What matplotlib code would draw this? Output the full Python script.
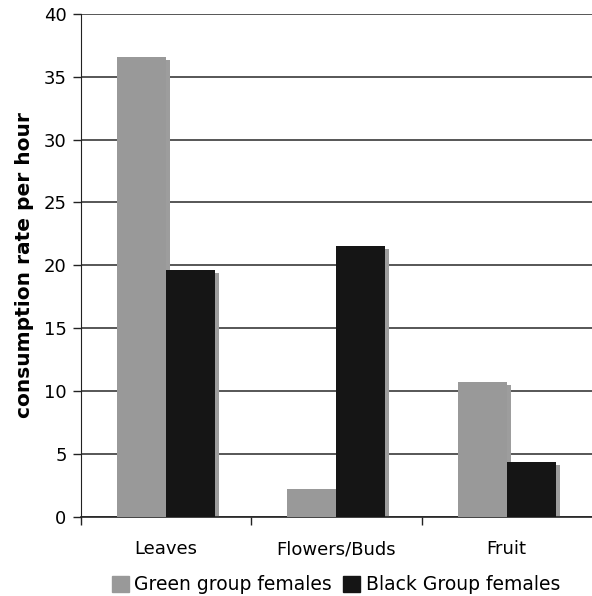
import numpy as np
import matplotlib
matplotlib.use('Agg')
import matplotlib.pyplot as plt
from matplotlib.patches import Patch

categories = ['Leaves', 'Flowers/Buds', 'Fruit']
green_group = [36.6, 2.15, 10.7]
black_group = [19.6, 21.5, 4.3]
series_names = ['Green group females', 'Black Group females']

GREEN_C = '#999999'
BLACK_C = '#151515'
SHADOW_C = '#9d9d9d'

plt.rcParams['font.family'] = 'DejaVu Sans'

fig = plt.figure(figsize=(5.92, 5.96), dpi=100)
ax = fig.add_axes([80.5 / 592, 1 - 516.5 / 596, 1 - 80.5 / 592, (516.5 - 14) / 596])

x = np.arange(len(categories))
w = 0.288
# drop shadow: shifted a few pixels right and down
dx, dy = 0.023, 0.24
for vals, off in ((green_group, -w / 2), (black_group, w / 2)):
    v = np.array(vals)
    ax.bar(x + off + dx, v - dy, w, color=SHADOW_C, zorder=2, bottom=0)

ax.bar(x - w / 2, green_group, w, color=GREEN_C, zorder=3)
ax.bar(x + w / 2, black_group, w, color=BLACK_C, zorder=3)

ax.set_xlim(-0.5, 2.5)
ax.set_ylim(0, 40)
ax.set_yticks(np.arange(0, 41, 5))
ax.yaxis.grid(True, color='#3a3a3a', linewidth=1.2, zorder=1)
ax.set_axisbelow(True)

ax.set_xticks([-0.5, 0.5, 1.5])
ax.set_xticklabels([])
ax.set_xticks(x, minor=True)
ax.set_xticklabels(categories, minor=True, fontsize=13)
ax.tick_params(axis='x', which='minor', length=0, pad=17)
ax.tick_params(axis='x', which='major', length=6, width=1, color='#222222')
ax.tick_params(axis='y', length=6, width=1, labelsize=13, color='#222222', pad=4)

for s in ('top', 'right'):
    ax.spines[s].set_visible(False)
ax.spines['left'].set_color('#222222')
ax.spines['bottom'].set_color('#222222')
ax.spines['bottom'].set_linewidth(1.2)

ax.set_ylabel('consumption rate per hour', fontsize=14.5, fontweight='bold', labelpad=7)

handles = [Patch(color=GREEN_C), Patch(color=BLACK_C)]
fig.legend(handles, series_names, loc='center', bbox_to_anchor=(336 / 592, 1 - 585 / 596),
           ncol=2, frameon=False, fontsize=13.5, handlelength=0.9, handleheight=0.9,
           handletextpad=0.3, columnspacing=0.6)

fig.savefig('out.png', dpi=100)
